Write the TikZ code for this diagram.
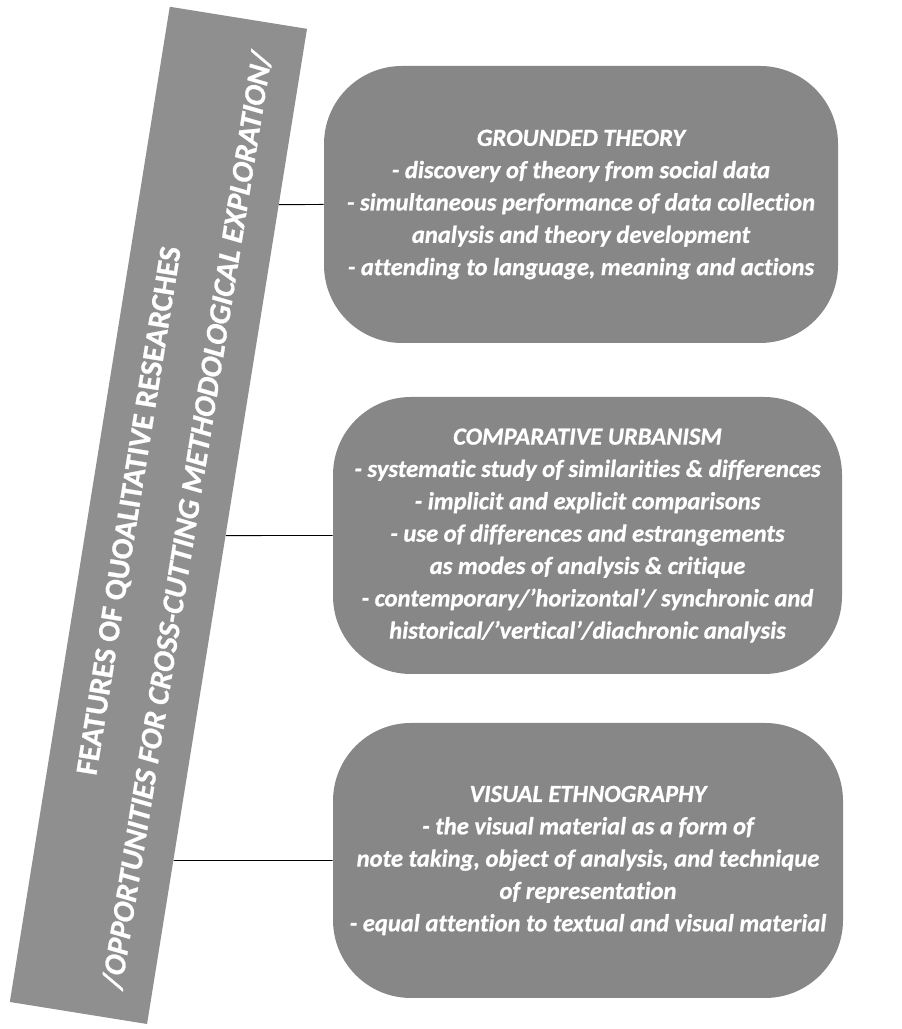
\documentclass[tikz,border=0pt]{standalone}
\usepackage{fontspec}
\setmainfont{Carlito}[Ligatures=NoCommon, BoldFeatures={FakeBold=0.8}, BoldItalicFeatures={FakeBold=0.8}]
\definecolor{bargray}{RGB}{143,143,143}
\definecolor{boxgray}{RGB}{135,135,135}
\tikzset{
    featbar/.style={fill=bargray, text=white, font=\bfseries\fontsize{22}{42}\selectfont, align=center, inner sep=0pt},
    methodbox/.style={fill=boxgray, rounded corners=1.95cm, text=white, font=\bfseries\itshape\fontsize{17.5}{23}\selectfont, align=center, inner sep=0pt},
    link/.style={line width=0.7pt, black}
}
\begin{document}
\begin{tikzpicture}
    \useasboundingbox (0,0) rectangle (22.55,25.725);

    %Tilted Title Bar
    \node[featbar, rotate=80.87, minimum width=25.2cm, minimum height=3.475cm] (bar) at (3.96,12.84)
        {FEATURES OF QUOALITATIVE RESEARCHES\\ {\itshape /OPPORTUNITIES FOR CROSS-CUTTING METHODOLOGICAL EXPLORATION/}};

    %Method Boxes
    \node[methodbox, minimum width=12.85cm, minimum height=6.925cm] (grounded) at (14.525,20.6125)
        {GROUNDED THEORY\\
         - discovery of theory from social data\\
         - simultaneous performance of data collection\\
         analysis and theory development\\
         - attending to language, meaning and actions};
    \node[methodbox, minimum width=12.725cm, minimum height=6.925cm] (urbanism) at (14.6875,12.3375)
        {COMPARATIVE URBANISM\\
         - systematic study of similarities \& differences\\
         - implicit and explicit comparisons\\
         - use of differences and estrangements\\
         as modes of analysis \& critique\\
         - contemporary/’horizontal’/ synchronic and\\
         historical/’vertical’/diachronic analysis};
    \node[methodbox, minimum width=12.75cm, minimum height=6.875cm] (ethno) at (14.7,4.2125)
        {VISUAL ETHNOGRAPHY\\
         - the visual material as a form of\\
         note taking, object of analysis, and technique\\
         of representation\\
         - equal attention to textual and visual material};

    %Links
    \draw[link] (grounded.west) -- (intersection of grounded.west--grounded.east and bar.south west--bar.south east);
    \draw[link] (urbanism.west) -- (intersection of urbanism.west--urbanism.east and bar.south west--bar.south east);
    \draw[link] (ethno.west) -- (intersection of ethno.west--ethno.east and bar.south west--bar.south east);
\end{tikzpicture}
\end{document}
